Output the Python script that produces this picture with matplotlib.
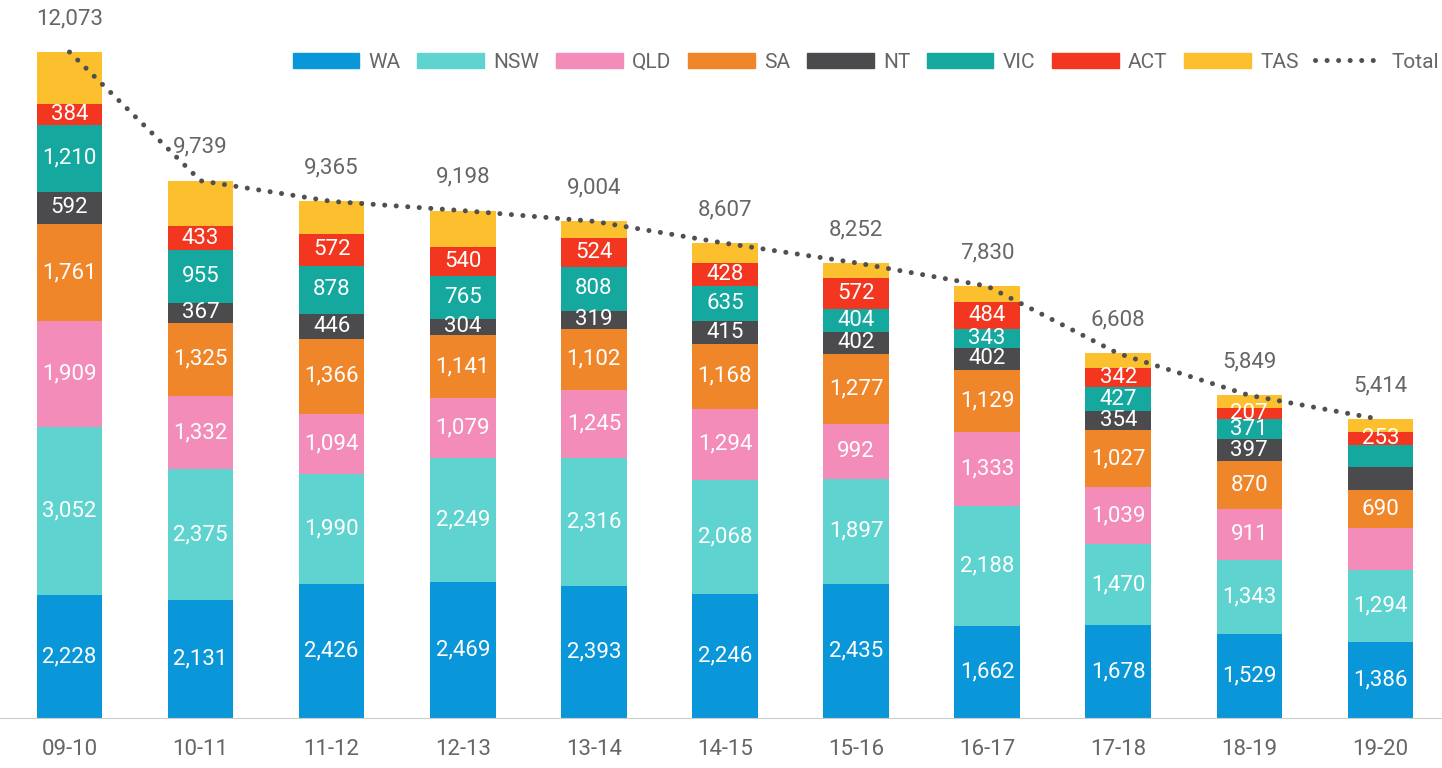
import matplotlib

matplotlib.use("Agg")

import matplotlib.pyplot as plt
from matplotlib.lines import Line2D
from matplotlib.patches import Patch

plt.rcParams["font.family"] = ["Roboto", "DejaVu Sans"]

YEARS = ["09-10", "10-11", "11-12", "12-13", "13-14", "14-15", "15-16", "16-17", "17-18", "18-19", "19-20"]
WA = [2228, 2131, 2426, 2469, 2393, 2246, 2435, 1662, 1678, 1529, 1386]
NSW = [3052, 2375, 1990, 2249, 2316, 2068, 1897, 2188, 1470, 1343, 1294]
QLD = [1909, 1332, 1094, 1079, 1245, 1294, 992, 1333, 1039, 911, 760]
SA = [1761, 1325, 1366, 1141, 1102, 1168, 1277, 1129, 1027, 870, 690]
NT = [592, 367, 446, 304, 319, 415, 402, 402, 354, 397, 420]
VIC = [1210, 955, 878, 765, 808, 635, 404, 343, 427, 371, 390]
ACT = [384, 433, 572, 540, 524, 428, 572, 484, 342, 207, 253]
TAS = [937, 821, 593, 651, 297, 353, 273, 289, 271, 221, 221]
TOTAL = [12073, 9739, 9365, 9198, 9004, 8607, 8252, 7830, 6608, 5849, 5414]

SERIES = [
    ("WA", WA, "#0a97d9"),
    ("NSW", NSW, "#5fd3cf"),
    ("QLD", QLD, "#f48cba"),
    ("SA", SA, "#f0862a"),
    ("NT", NT, "#4b4b4d"),
    ("VIC", VIC, "#14a89f"),
    ("ACT", ACT, "#f2361f"),
    ("TAS", TAS, "#fcbf2e"),
]
# segments drawn without a value label in the original
NO_LABEL = {"TAS"}
NO_LABEL_AT = {("QLD", "19-20"), ("NT", "19-20"), ("VIC", "19-20")}

TEXT_GREY = "#666666"
DOTS = (0, (0.01, 2.3))


def main() -> None:
    fig = plt.figure(figsize=(14.42, 7.68), dpi=100)
    ax = fig.add_axes([0, 50 / 768, 1, 718 / 768])
    x = list(range(len(YEARS)))

    bottom = [0] * len(YEARS)
    for name, values, color in SERIES:
        ax.bar(x, values, width=0.5, bottom=bottom, color=color, linewidth=0)
        if name not in NO_LABEL:
            for i, v in enumerate(values):
                if (name, YEARS[i]) in NO_LABEL_AT:
                    continue
                ax.text(i, bottom[i] + v / 2, f"{v:,}", ha="center", va="center",
                        color="white", fontsize=16)
        bottom = [b + v for b, v in zip(bottom, values)]

    ax.plot(x, TOTAL, color="#505050", linewidth=3.6, linestyle=DOTS,
            dash_capstyle="round", zorder=5)
    for i, t in enumerate(TOTAL):
        ax.annotate(f"{t:,}", (i, t), xytext=(0, 24), textcoords="offset points",
                    ha="center", va="center", color=TEXT_GREY, fontsize=16)

    ax.set_xlim(-0.53, 10.47)
    ax.set_ylim(0, 13016)
    ax.set_xticks(x)
    ax.set_xticklabels(YEARS)
    ax.tick_params(axis="x", length=0, pad=15, labelsize=16, labelcolor=TEXT_GREY)
    ax.set_yticks([])
    for side in ("top", "left", "right"):
        ax.spines[side].set_visible(False)
    ax.spines["bottom"].set_color("#cccccc")

    handles = [Patch(color=c, label=n) for n, _, c in SERIES]
    handles.append(Line2D([], [], color="#505050", linewidth=3.6, linestyle=DOTS,
                          dash_capstyle="round", label="Total"))
    ax.legend(handles=handles, ncol=9, loc="center right", bbox_to_anchor=(0.998, 1 - 62 / 718),
              frameon=False, fontsize=15, labelcolor=TEXT_GREY, handlelength=3.2,
              handleheight=0.7, handletextpad=0.45, columnspacing=0.8,
              borderpad=0, borderaxespad=0)

    fig.savefig("out.png", dpi=100)


if __name__ == "__main__":
    main()
